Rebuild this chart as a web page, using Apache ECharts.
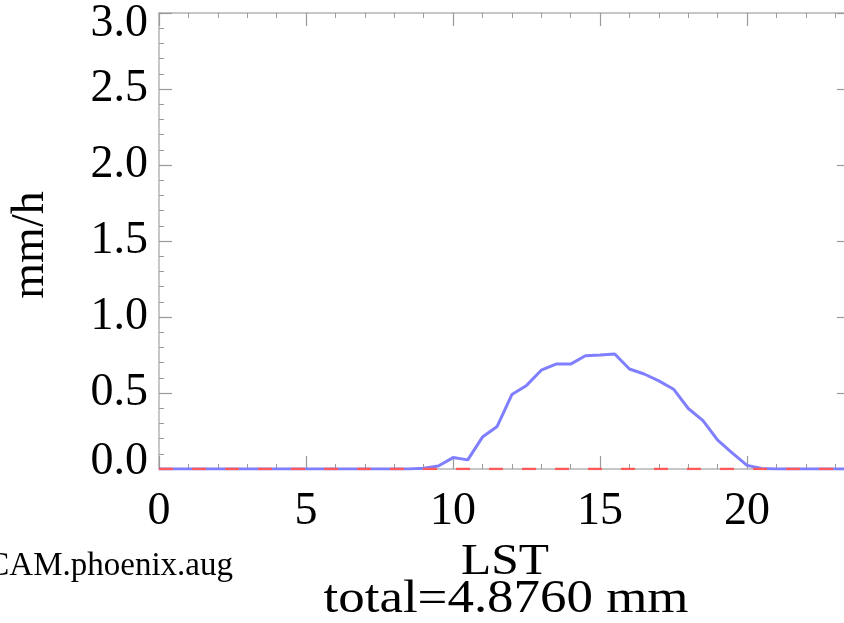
<!DOCTYPE html>
<html>
<head>
<meta charset="utf-8">
<style>
  html, body { margin: 0; padding: 0; background: #ffffff; }
  #chart { width: 844px; height: 623px; }
</style>
<script src="https://cdn.jsdelivr.net/npm/echarts@6/dist/echarts.min.js"></script>
</head>
<body>
<div id="chart"></div>
<script>
// Local solar time, half-hourly
const hours = [
  0, 0.5, 1, 1.5, 2, 2.5, 3, 3.5, 4, 4.5, 5, 5.5,
  6, 6.5, 7, 7.5, 8, 8.5, 9, 9.5, 10, 10.5, 11, 11.5,
  12, 12.5, 13, 13.5, 14, 14.5, 15, 15.5, 16, 16.5, 17, 17.5,
  18, 18.5, 19, 19.5, 20, 20.5, 21, 21.5, 22, 22.5, 23, 23.5
];

// Model precipitation rate (mm/h)
const modelRate = [
  0, 0, 0, 0, 0, 0, 0, 0, 0, 0, 0, 0,
  0, 0, 0, 0, 0, 0, 0.005, 0.02, 0.075, 0.06, 0.21, 0.28,
  0.49, 0.55, 0.65, 0.69, 0.69, 0.745, 0.75, 0.757, 0.658, 0.625, 0.58, 0.525,
  0.398, 0.318, 0.19, 0.105, 0.024, 0.003, 0, 0, 0, 0, 0, 0
];

// Reference rate (mm/h)
const refRate = [
  0, 0, 0, 0, 0, 0, 0, 0, 0, 0, 0, 0,
  0, 0, 0, 0, 0, 0, 0, 0, 0, 0, 0, 0,
  0, 0, 0, 0, 0, 0, 0, 0, 0, 0, 0, 0,
  0, 0, 0, 0, 0, 0, 0, 0, 0, 0, 0, 0
];

const xTicks = [0, 5, 10, 15, 20];
const yTicks = ['0.0', '0.5', '1.0', '1.5', '2.0', '2.5', '3.0'];

const caseName = 'CAM.phoenix.aug';
const totalText = 'total=4.8760 mm';

const serif = '"Liberation Serif", "DejaVu Serif", serif';
const frameColor = '#b4b4b4';
const tickColor = '#9a9a9a';

// Shared style for the four frame axes: ticks point into the plot
function frameAxis() {
  return {
    axisLine: { show: true, onZero: false, lineStyle: { color: frameColor, width: 1.5 } },
    axisTick: { show: true, inside: true, length: 13, lineStyle: { color: tickColor, width: 1.2 } },
    minorTick: { show: true, splitNumber: 5, length: 5, lineStyle: { color: tickColor, width: 1 } },
    splitLine: { show: false },
    minorSplitLine: { show: false }
  };
}

const chart = echarts.init(document.getElementById('chart'), null, { renderer: 'canvas' });

const pair = (arr) => hours.map((h, i) => [h, arr[i]]);

// The end labels of the value axis are nudged inward to stay inside the frame
function yLabel(v) {
  const i = Math.round(v / 0.5);
  const t = yTicks[i];
  if (i === 0) return '{lo|' + t + '}';
  if (i === yTicks.length - 1) return '{hi|' + t + '}';
  return t;
}

chart.setOption({
  animation: false,
  backgroundColor: '#ffffff',
  grid: { left: 159, right: -6, top: 13, bottom: 154, containLabel: false, outerBoundsMode: 'none' },
  xAxis: [
    Object.assign({
      type: 'value', position: 'bottom', min: 0, max: 23.5, interval: 5,
      axisLabel: {
        show: true, margin: 20, color: '#000', fontFamily: serif, fontSize: 46,
        formatter: (v) => (xTicks.indexOf(v) >= 0 ? String(v) : '')
      }
    }, frameAxis()),
    Object.assign({
      type: 'value', position: 'top', min: 0, max: 23.5, interval: 5,
      axisLabel: { show: false }
    }, frameAxis())
  ],
  yAxis: [
    Object.assign({
      type: 'value', position: 'left', min: 0, max: 3, interval: 0.5,
      axisLabel: {
        show: true, margin: 11, color: '#000', fontFamily: serif, fontSize: 46,
        formatter: yLabel,
        rich: {
          lo: { fontFamily: serif, fontSize: 46, color: '#000', padding: [0, 0, 14, 0] },
          hi: { fontFamily: serif, fontSize: 46, color: '#000', padding: [22, 0, 0, 0] }
        }
      }
    }, frameAxis()),
    Object.assign({
      type: 'value', position: 'right', min: 0, max: 3, interval: 0.5,
      axisLabel: { show: false }
    }, frameAxis())
  ],
  series: [
    {
      type: 'line', name: 'model', xAxisIndex: 0, yAxisIndex: 0,
      data: pair(modelRate), showSymbol: false, symbol: 'none',
      lineStyle: { color: '#7f7fff', width: 3 }, z: 2
    },
    {
      type: 'line', name: 'reference', xAxisIndex: 0, yAxisIndex: 0,
      data: pair(refRate), showSymbol: false, symbol: 'none',
      lineStyle: { color: '#ff5a5a', width: 2.5, type: [14, 19] }, z: 3
    }
  ],
  graphic: [
    {
      type: 'text', x: 31, y: 245, rotation: Math.PI / 2,
      style: { text: 'mm/h', font: '46px ' + serif, fill: '#000', align: 'center', verticalAlign: 'middle' }
    },
    {
      type: 'text', x: 505, y: 562, scaleX: 1.1,
      style: { text: 'LST', font: '45px ' + serif, fill: '#000', align: 'center', verticalAlign: 'middle' }
    },
    {
      type: 'text', x: 506, y: 600, scaleX: 1.15,
      style: { text: totalText, font: '46px ' + serif, fill: '#000', align: 'center', verticalAlign: 'middle' }
    },
    {
      type: 'text', x: 233, y: 566,
      style: { text: caseName, font: '33px ' + serif, fill: '#000', align: 'right', verticalAlign: 'middle' }
    }
  ]
});
</script>
</body>
</html>
